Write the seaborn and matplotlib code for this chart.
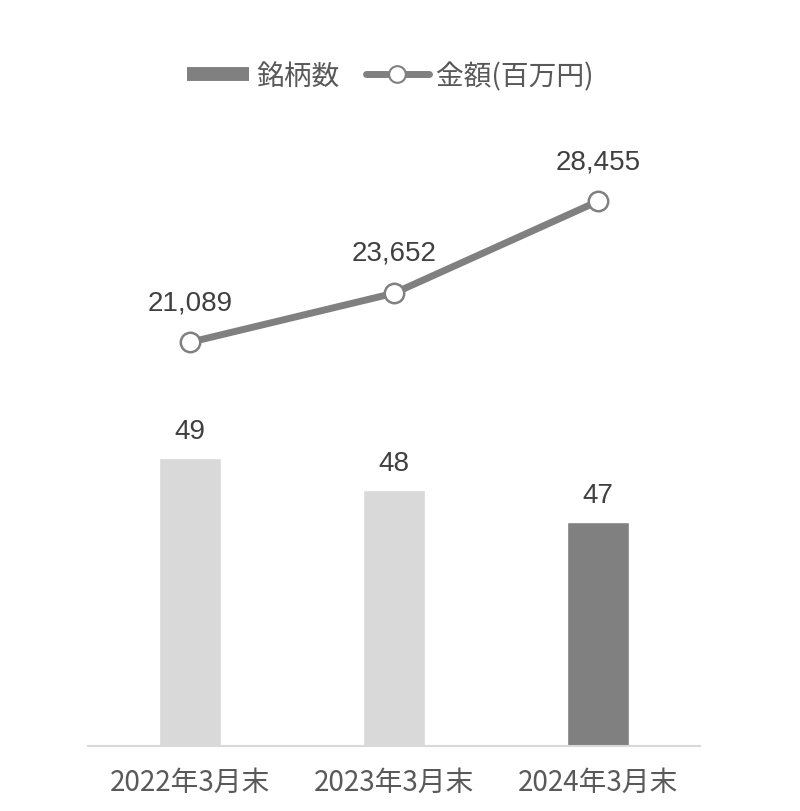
import numpy as np
import matplotlib
matplotlib.use("Agg")
import matplotlib.pyplot as plt
from matplotlib.lines import Line2D
import seaborn as sns

# data
categories = ["2022年3月末", "2023年3月末", "2024年3月末"]
issue_counts = [49, 48, 47]
amounts = [21089, 23652, 28455]
bar_colors = ["#d9d9d9", "#d9d9d9", "#808080"]

sns.set_style("white")
plt.rcParams["font.family"] = ["Noto Sans CJK JP", "DejaVu Sans"]

fig = plt.figure(figsize=(8.0, 8.12), dpi=100)
ax = fig.add_axes([0.11, 65 / 812, 0.765, 670 / 812])

sns.barplot(x=categories, y=issue_counts, hue=categories, palette=bar_colors,
            width=0.305, legend=False, ax=ax, saturation=1)
ax.set_ylim(40, 40 + 670 / 32)
ax.set_xlim(-0.5, 2.5)
for c in ax.containers:
    ax.bar_label(c, fmt="%d", padding=10, fontsize=20, color="#404040",
                 family="Liberation Sans")

for s in ["top", "left", "right"]:
    ax.spines[s].set_visible(False)
ax.spines["bottom"].set_color("#d9d9d9")
ax.spines["bottom"].set_linewidth(1.5)
ax.set_yticks([])
ax.set_ylabel("")
ax.tick_params(axis="x", length=0, pad=15, labelsize=20, labelcolor="#595959")

ax2 = ax.twinx()
xpos = np.arange(len(categories))
sns.lineplot(x=xpos, y=amounts, ax=ax2, color="#808080", linewidth=5,
             marker="o", markersize=14, markerfacecolor="white",
             markeredgecolor="#808080", markeredgewidth=1.8)
ax2.set_ylim(0, 35000)
ax2.set_yticks([])
ax2.set_ylabel("")
for s in ax2.spines.values():
    s.set_visible(False)
for x, v in zip(xpos, amounts):
    ax2.annotate(f"{v:,}", (x, v), xytext=(0, 29), textcoords="offset points",
                 ha="center", va="center", fontsize=20, color="#404040",
                 family="Liberation Sans")

handles = [
    Line2D([], [], color="#808080", linewidth=10, solid_capstyle="butt"),
    Line2D([], [], color="#808080", linewidth=5, marker="o", markersize=12,
           markerfacecolor="white", markeredgecolor="#808080", markeredgewidth=1.5),
]
fig.legend(handles, ["銘柄数", "金額(百万円)"], loc="center",
           bbox_to_anchor=(390 / 800, 1 - 77 / 812),
           ncol=2, frameon=False, fontsize=20, handlelength=2.25, columnspacing=0.95,
           handletextpad=0.25, labelcolor="#595959")

fig.savefig("out.png", dpi=100, facecolor="white")
